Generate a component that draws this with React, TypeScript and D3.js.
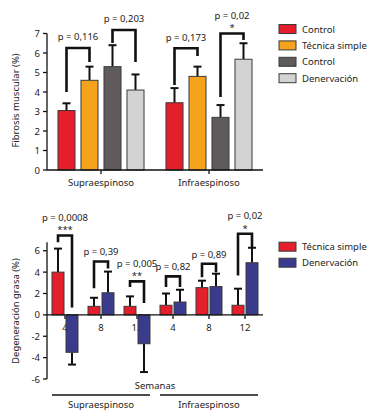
import React from "react";
import * as d3 from "d3";

// ---------- Top chart data ----------
const topGroups = ["Supraespinoso", "Infraespinoso"];
const topSeries = ["Control", "Técnica simple", "Control ", "Denervación"];
const topColors = ["#E41E2B", "#F5A21C", "#5F5B5C", "#D4D3D3"];
const topValues = [
  [3.05, 4.6, 5.3, 4.1],
  [3.45, 4.8, 2.7, 5.68],
];
const topErrors = [
  [0.37, 0.7, 1.1, 0.8],
  [0.75, 0.5, 0.63, 0.82],
];
// brackets: group, left series, right series, top level, left end, right end, label, stars
const topBrGroup = [0, 0, 1, 1];
const topBrLeft = [0, 2, 0, 2];
const topBrRight = [1, 3, 1, 3];
const topBrTop = [6.26, 7.18, 6.24, 7.0];
const topBrLeftEnd = [4.0, 6.51, 4.36, 3.74];
const topBrRightEnd = [5.54, 5.54, 5.85, 6.67];
const topBrLabel = ["p = 0,116", "p = 0,203", "p = 0,173", "p = 0,02"];
const topBrStars = ["", "", "", "*"];
const topTicks = [0, 1, 2, 3, 4, 5, 6, 7];

// ---------- Bottom chart data ----------
const botGroups = ["S4", "S8", "S12", "I4", "I8", "I12"];
const botWeekLabels = ["4", "8", "12", "4", "8", "12"];
const botSeries = ["Técnica simple", "Denervación"];
const botColors = ["#E41E2B", "#3B3B8E"];
const botValues = [
  [4.0, -3.5],
  [0.8, 2.07],
  [0.8, -2.7],
  [0.9, 1.2],
  [2.55, 2.65],
  [0.9, 4.88],
];
const botErrors = [
  [2.2, 1.15],
  [0.8, 1.98],
  [0.93, 2.65],
  [1.1, 1.15],
  [0.65, 1.2],
  [1.55, 1.4],
];
const botBrTop = [7.43, 5.0, 3.13, 3.6, 4.79, 7.59];
const botBrLeftEnd = [6.8, 2.48, 2.6, 2.6, 3.53, 3.69];
const botBrRightEnd = [0.7, 4.35, 1.1, 2.6, 4.0, 6.34];
const botBrLabel = ["p = 0,0008", "p = 0,39", "p = 0,005", "p = 0,82", "p = 0,89", "p = 0,02"];
const botBrStars = ["***", "", "**", "", "", "*"];
const botTicks = [-6, -4, -2, 0, 2, 4, 6];
const muscleLabels = ["Supraespinoso", "Infraespinoso"];

const FONT = "'Noto Sans', 'Open Sans', sans-serif";
const FS = 9.5;
const TXT = "#222";

export default function App() {
  // Top scales
  const tx = d3.scaleBand<string>().domain(topGroups).range([47, 263]);
  const txi = d3.scaleBand<number>().domain([0, 1, 2, 3]).range([-46, 46]).paddingInner(0.26).paddingOuter(0.13);
  const ty = d3.scaleLinear().domain([0, 7]).range([170, 33.5]);
  const tcx = (g: number, s: number) => (tx(topGroups[g]) as number) + tx.bandwidth() / 2 + (txi(s) as number) + txi.bandwidth() / 2;

  // Bottom scales
  const bx = d3.scaleBand<string>().domain(botGroups).range([47, 263]);
  const bxi = d3.scaleBand<number>().domain([0, 1]).range([-13, 13]).paddingInner(0.143);
  const by = d3.scaleLinear().domain([-6, 6.8]).range([379, 242.2]);
  const bcx = (g: number, s: number) => (bx(botGroups[g]) as number) + bx.bandwidth() / 2 + (bxi(s) as number) + bxi.bandwidth() / 2;

  const capW = 8;

  return (
    <svg width={376} height={419} style={{ position: "absolute", left: 0, top: 0, background: "#fff" }} fontFamily={FONT}>
      {/* ======= TOP CHART ======= */}
      <text transform={`translate(15,100.5) rotate(-90)`} textAnchor="middle" dominantBaseline="central" fontSize={FS} fill={TXT}>
        Fibrosis muscular (%)
      </text>
      {/* y axis */}
      <line x1={47} x2={47} y1={ty(0)} y2={ty(7)} stroke="#111" strokeWidth={1.3} />
      {topTicks.map((t) => (
        <g key={"tt" + t}>
          <line x1={43} x2={47} y1={ty(t)} y2={ty(t)} stroke="#111" strokeWidth={1.3} />
          <text x={40} y={ty(t)} textAnchor="end" dominantBaseline="central" fontSize={FS} fill={TXT}>{t}</text>
        </g>
      ))}
      {/* bars */}
      {topValues.map((vals, g) =>
        vals.map((v, s) => {
          const cx = tcx(g, s);
          const top = ty(v + topErrors[g][s]);
          return (
            <g key={`tb${g}-${s}`}>
              <line x1={cx} x2={cx} y1={ty(v)} y2={top} stroke="#111" strokeWidth={2} />
              <line x1={cx - capW / 2} x2={cx + capW / 2} y1={top} y2={top} stroke="#111" strokeWidth={2} />
              <rect x={cx - txi.bandwidth() / 2} y={ty(v)} width={txi.bandwidth()} height={ty(0) - ty(v)} fill={topColors[s]} stroke="#3a3a3a" strokeWidth={1} />
            </g>
          );
        })
      )}
      {/* x axis */}
      <line x1={47} x2={263} y1={ty(0)} y2={ty(0)} stroke="#111" strokeWidth={1.3} />
      {topGroups.map((g) => {
        const c = (tx(g) as number) + tx.bandwidth() / 2;
        return (
          <g key={"tg" + g}>
            <line x1={c} x2={c} y1={ty(0)} y2={ty(0) + 4} stroke="#111" strokeWidth={1.3} />
            <text x={c} y={182} textAnchor="middle" dominantBaseline="central" fontSize={FS} fill={TXT}>{g}</text>
          </g>
        );
      })}
      {/* brackets */}
      {topBrLabel.map((lab, i) => {
        const xl = tcx(topBrGroup[i], topBrLeft[i]);
        const xr = tcx(topBrGroup[i], topBrRight[i]);
        const yt = ty(topBrTop[i]);
        const mid = (xl + xr) / 2;
        const star = topBrStars[i];
        return (
          <g key={"tbr" + i}>
            <path d={`M${xl},${ty(topBrLeftEnd[i])}V${yt}H${xr}V${ty(topBrRightEnd[i])}`} fill="none" stroke="#111" strokeWidth={2.6} />
            {star && <text x={mid} y={yt - 3} textAnchor="middle" fontSize={FS} fill={TXT}>{star}</text>}
            <text x={mid} y={yt - (star ? 18 : 11)} textAnchor="middle" dominantBaseline="central" fontSize={FS} fill={TXT}>{lab}</text>
          </g>
        );
      })}
      {/* legend */}
      {topSeries.map((s, i) => (
        <g key={"tl" + i}>
          <rect x={279} y={24.5 + i * 16.4} width={17} height={9} fill={topColors[i]} stroke="#3a3a3a" strokeWidth={1} />
          <text x={302} y={29 + i * 16.4} dominantBaseline="central" fontSize={FS} fill={TXT}>{s.trim()}</text>
        </g>
      ))}

      {/* ======= BOTTOM CHART ======= */}
      <text transform={`translate(15,311) rotate(-90)`} textAnchor="middle" dominantBaseline="central" fontSize={FS} fill={TXT}>
        Degeneración grasa (%)
      </text>
      <line x1={47} x2={47} y1={by(-6)} y2={by(6.8)} stroke="#111" strokeWidth={1.3} />
      {botTicks.map((t) => (
        <g key={"bt" + t}>
          <line x1={43} x2={47} y1={by(t)} y2={by(t)} stroke="#111" strokeWidth={1.3} />
          <text x={40} y={by(t)} textAnchor="end" dominantBaseline="central" fontSize={FS} fill={TXT}>{t}</text>
        </g>
      ))}
      {/* week labels (under bars) */}
      {botWeekLabels.map((w, g) => {
        const c = (bx(botGroups[g]) as number) + bx.bandwidth() / 2;
        return (
          <g key={"bw" + g}>
            <line x1={c} x2={c} y1={by(0)} y2={by(0) + 4} stroke="#111" strokeWidth={1.3} />
            <text x={c} y={327} textAnchor="middle" dominantBaseline="central" fontSize={FS} fill={TXT}>{w}</text>
          </g>
        );
      })}
      {botValues.map((vals, g) =>
        vals.map((v, s) => {
          const cx = bcx(g, s);
          const e = botErrors[g][s];
          const end = v >= 0 ? by(v + e) : by(v - e);
          return (
            <g key={`bb${g}-${s}`}>
              <line x1={cx} x2={cx} y1={by(v)} y2={end} stroke="#111" strokeWidth={2} />
              <line x1={cx - capW / 2} x2={cx + capW / 2} y1={end} y2={end} stroke="#111" strokeWidth={2} />
              <rect x={cx - bxi.bandwidth() / 2} y={Math.min(by(v), by(0))} width={bxi.bandwidth()} height={Math.abs(by(0) - by(v))} fill={botColors[s]} stroke="#3a3a3a" strokeWidth={1} />
            </g>
          );
        })
      )}
      <line x1={47} x2={263} y1={by(0)} y2={by(0)} stroke="#111" strokeWidth={1.3} />
      {botBrLabel.map((lab, i) => {
        const xl = bcx(i, 0);
        const xr = bcx(i, 1);
        const yt = by(botBrTop[i]);
        const mid = (xl + xr) / 2;
        const star = botBrStars[i];
        return (
          <g key={"bbr" + i}>
            <path d={`M${xl},${by(botBrLeftEnd[i])}V${yt}H${xr}V${by(botBrRightEnd[i])}`} fill="none" stroke="#111" strokeWidth={2.6} />
            {star && <text x={mid} y={yt - 2} textAnchor="middle" fontSize={FS} fill={TXT}>{star}</text>}
            <text x={mid} y={yt - (star ? 18 : 9.5)} textAnchor="middle" dominantBaseline="central" fontSize={FS} fill={TXT}>{lab}</text>
          </g>
        );
      })}
      {/* legend */}
      {botSeries.map((s, i) => (
        <g key={"bl" + i}>
          <rect x={279} y={242.2 + i * 16} width={17} height={9} fill={botColors[i]} stroke="#3a3a3a" strokeWidth={1} />
          <text x={302} y={246.7 + i * 16} dominantBaseline="central" fontSize={FS} fill={TXT}>{s}</text>
        </g>
      ))}
      <text x={155} y={385} textAnchor="middle" dominantBaseline="central" fontSize={FS} fill={TXT}>Semanas</text>
      {muscleLabels.map((m, i) => {
        const x0 = bx(botGroups[i * 3]) as number;
        const x1 = (bx(botGroups[i * 3 + 2]) as number) + bx.bandwidth();
        return (
          <g key={"ml" + i}>
            <line x1={x0 + 5} x2={x1 - 5} y1={395} y2={395} stroke="#111" strokeWidth={1.3} />
            <text x={(x0 + x1) / 2} y={404.5} textAnchor="middle" dominantBaseline="central" fontSize={FS} fill={TXT}>{m}</text>
          </g>
        );
      })}
    </svg>
  );
}
